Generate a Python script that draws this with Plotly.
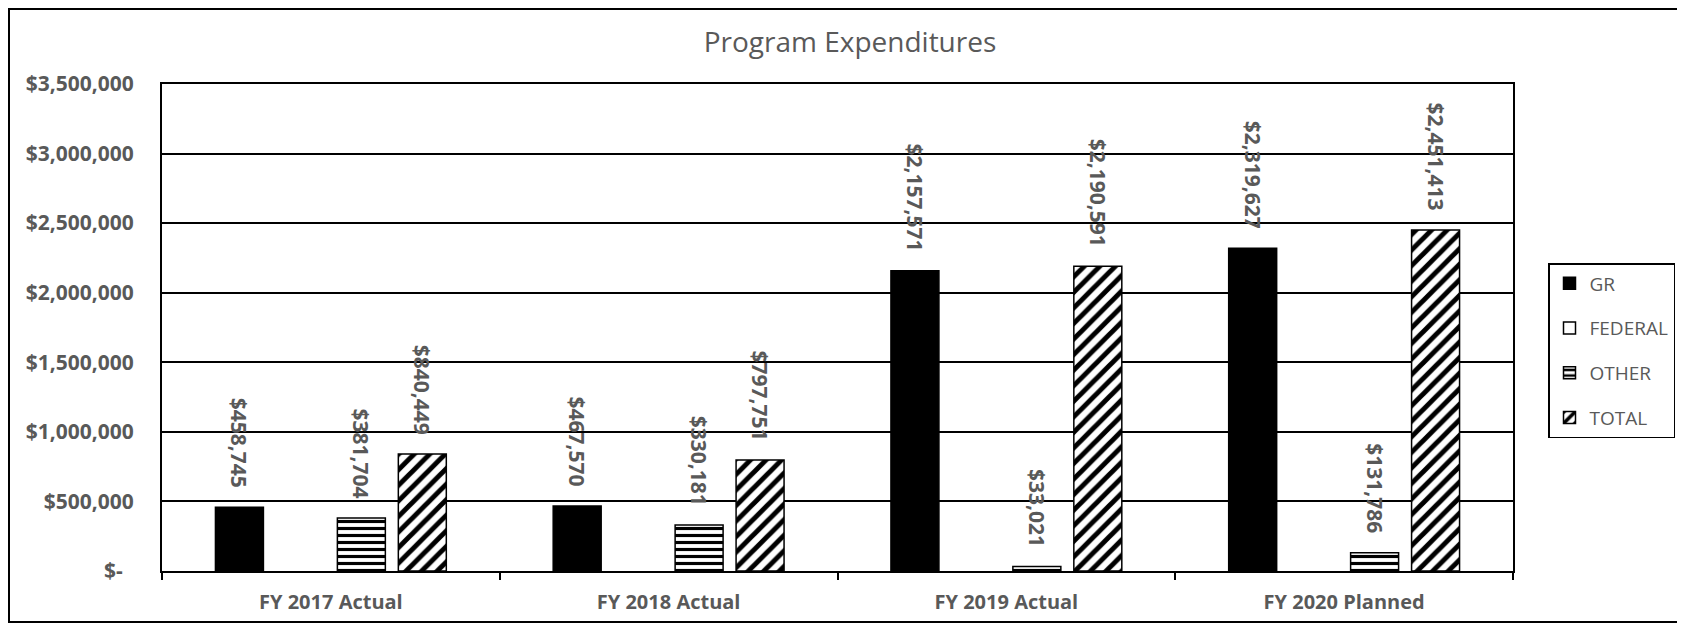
import plotly.graph_objects as go

categories = ["FY 2017 Actual", "FY 2018 Actual", "FY 2019 Actual", "FY 2020 Planned"]
gr = [458745, 467570, 2157571, 2319627]
federal = [0, 0, 0, 0]
other = [381704, 330181, 33021, 131786]
total = [840449, 797751, 2190591, 2451413]
y_ticks = [0, 500000, 1000000, 1500000, 2000000, 2500000, 3000000, 3500000]
y_tick_text = ["$-\u00a0\u00a0", "$500,000", "$1,000,000", "$1,500,000", "$2,000,000",
               "$2,500,000", "$3,000,000", "$3,500,000"]

GRAY = "#595959"
FONT = "Open Sans"


def labels(vals):
    return [f"${v:,}\u00a0\u00a0\u00a0" if v > 0 else "" for v in vals]


def nonzero(vals):
    # zero-value bars are not drawn (as in the original chart)
    return [v if v > 0 else None for v in vals]


series = [
    ("GR", gr, dict(color="black", line=dict(color="black", width=1.5))),
    ("FEDERAL", federal, dict(color="white", line=dict(color="black", width=1.5))),
    ("OTHER", other, dict(color="white", line=dict(color="black", width=1.5),
                          pattern=dict(shape="-", fgcolor="black", bgcolor="white",
                                       fgopacity=1, size=7, solidity=0.45,
                                       fillmode="overlay"))),
    ("TOTAL", total, dict(color="white", line=dict(color="black", width=1.5),
                          pattern=dict(shape="/", fgcolor="black", bgcolor="white",
                                       fgopacity=1, size=11, solidity=0.45,
                                       fillmode="overlay"))),
]

fig = go.Figure()
for name, vals, marker in series:
    fig.add_trace(go.Bar(
        name=name, x=categories, y=nonzero(vals), marker=marker,
        text=labels(vals), textposition="outside", textangle=90,
        constraintext="none", cliponaxis=False,
        textfont=dict(family=FONT, size=21, color=GRAY, weight="bold"),
        legendgroup=name,
    ))

# The page body adds an 8px margin, so the figure is placed at page (8, 8).
OFF = 8
W, H = 1685 - OFF, 627 - OFF
L, R, T, B = 162 - OFF, 1513 - OFF, 84 - OFF, 571 - OFF
pw, ph = R - L, B - T

fig.update_layout(
    width=W, height=H,
    margin=dict(l=L, r=W - R, t=T, b=H - B, autoexpand=False),
    paper_bgcolor="white", plot_bgcolor="white",
    barmode="group", bargap=0.278, bargroupgap=0.213,
    font=dict(family=FONT, color=GRAY),
    title=dict(text="Program Expenditures", x=(850 - OFF) / W, xref="container",
               xanchor="center", y=1 - (42 - OFF) / H, yref="container", yanchor="middle",
               font=dict(family=FONT, size=28, color=GRAY)),
    legend=dict(x=(1548 - OFF - L) / pw, y=(B - (263 - OFF)) / ph,
                xanchor="left", yanchor="top",
                bordercolor="black", borderwidth=1.5, bgcolor="white",
                font=dict(family=FONT, size=19, color=GRAY), tracegroupgap=17,
                itemwidth=30),
    showlegend=True,
    shapes=[dict(type="rect", xref="paper", yref="paper",
                 x0=(8 - OFF - L) / pw + 1 / pw, x1=(1683 - OFF - L) / pw,
                 y0=(B - (622 - OFF)) / ph, y1=(B - 1) / ph,
                 line=dict(color="black", width=2), layer="below")],
)

fig.update_yaxes(range=[0, 3500000], tickvals=y_ticks, ticktext=y_tick_text,
                 showgrid=True, gridcolor="black", gridwidth=1.5,
                 showline=True, linecolor="black", linewidth=2, mirror=True,
                 ticks="", ticklabelstandoff=22, zeroline=False,
                 tickfont=dict(family=FONT, size=21, color=GRAY, weight="bold"))
fig.update_xaxes(type="category", tickson="boundaries", ticks="outside", ticklen=7,
                 tickcolor="black", tickwidth=1.5, showgrid=False,
                 showline=True, linecolor="black", linewidth=2, mirror=True,
                 ticklabelstandoff=12,
                 tickfont=dict(family=FONT, size=20, color=GRAY, weight="bold"))

fig.write_html("out.html")
